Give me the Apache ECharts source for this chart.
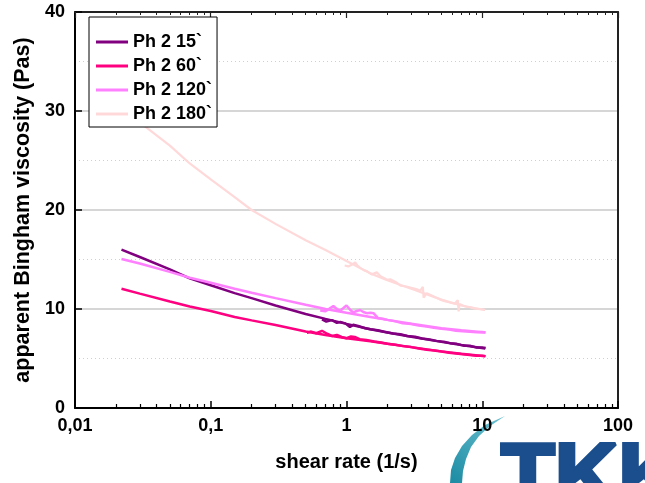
<!DOCTYPE html>
<html>
<head>
<meta charset="utf-8">
<script src="https://cdn.jsdelivr.net/npm/echarts@6/dist/echarts.min.js"></script>
<style>
  html, body { margin: 0; padding: 0; background: #fff; }
  #chart { width: 645px; height: 483px; }
</style>
</head>
<body>
<div id="chart"></div>
<script>
// Shear rate grid (1/s) of the fitted curves
const shearFit = [0.022, 0.03, 0.05, 0.07, 0.1, 0.15, 0.2, 0.3, 0.5, 0.7, 1, 1.5, 2, 3, 5, 7, 10.5];

// Fitted apparent Bingham viscosity (Pas) per sample
const fit15  = [16.0, 15.25, 14.0, 13.1, 12.4, 11.6, 11.1, 10.35, 9.5, 9.0, 8.5, 7.95, 7.62, 7.2, 6.68, 6.37, 6.02];
const fit60  = [12.05, 11.55, 10.75, 10.25, 9.8, 9.2, 8.85, 8.38, 7.73, 7.38, 7.05, 6.75, 6.5, 6.15, 5.72, 5.48, 5.22];
const fit120 = [15.05, 14.6, 13.75, 13.15, 12.65, 12.05, 11.65, 11.1, 10.42, 10.0, 9.62, 9.2, 8.9, 8.5, 8.05, 7.85, 7.62];
const fit180 = [30.3, 28.85, 26.5, 24.7, 23.1, 21.3, 20.0, 18.6, 16.95, 15.95, 14.85, 13.6, 12.9, 12.05, 10.95, 10.35, 9.9];

// Measured points (shear rate, viscosity)
const shear15 = [0.66, 0.71, 0.78, 0.85, 0.9, 0.98, 1.06, 1.12, 1.22, 1.37, 1.5, 1.7, 1.9, 2.2, 2.5, 2.8, 3.2, 3.6, 4.1, 4.6, 5.2, 5.8, 6.5, 7.3, 8.1, 9.0, 10.0, 10.6];
const visc15  = [8.95, 8.72, 8.88, 8.6, 8.68, 8.55, 8.18, 8.4, 8.28, 8.06, 7.95, 7.85, 7.7, 7.52, 7.45, 7.28, 7.2, 7.02, 6.92, 6.78, 6.7, 6.55, 6.48, 6.3, 6.28, 6.12, 6.1, 6.05];

const shear60 = [0.51, 0.55, 0.6, 0.66, 0.72, 0.78, 0.85, 0.92, 1.0, 1.08, 1.15, 1.25, 1.4, 1.6, 1.8, 2.0, 2.3, 2.6, 3.0, 3.4, 3.9, 4.4, 5.0, 5.7, 6.4, 7.2, 8.1, 9.1, 10.0, 10.6];
const visc60  = [7.6, 7.72, 7.55, 7.8, 7.5, 7.28, 7.38, 7.18, 7.05, 7.22, 7.18, 6.95, 6.88, 6.72, 6.62, 6.5, 6.38, 6.25, 6.15, 6.02, 5.88, 5.8, 5.7, 5.58, 5.5, 5.42, 5.35, 5.28, 5.28, 5.24];

const shear120 = [0.64, 0.7, 0.75, 0.8, 0.85, 0.9, 0.95, 1.0, 1.06, 1.12, 1.19, 1.26, 1.33, 1.41, 1.5, 1.58, 1.7, 1.85, 2.0, 2.3, 2.6, 3.0, 3.4, 3.9, 4.4, 5.0, 5.7, 6.4, 7.2, 8.1, 9.1, 10.0, 10.6];
const visc120  = [9.85, 9.78, 10.05, 10.3, 10.0, 9.83, 10.1, 10.35, 9.95, 9.65, 9.8, 9.9, 9.7, 9.58, 9.62, 9.58, 9.1, 9.02, 8.9, 8.75, 8.55, 8.48, 8.32, 8.22, 8.1, 8.0, 7.92, 7.8, 7.75, 7.7, 7.65, 7.68, 7.62];

const shear180 = [0.97, 1.03, 1.1, 1.16, 1.2, 1.26, 1.33, 1.42, 1.53, 1.6, 1.67, 1.78, 1.9, 1.98, 2.1, 2.28, 2.4, 2.5, 2.7, 2.9, 3.1, 3.3, 3.5, 3.65, 3.7, 3.9, 4.2, 4.5, 4.9, 5.3, 5.8, 6.3, 6.6, 6.7, 6.8, 7.2, 7.7, 8.1, 8.7, 9.3, 10.0, 10.5];
const visc180  = [14.4, 14.3, 14.5, 14.7, 14.4, 14.15, 13.95, 13.8, 13.5, 13.6, 13.7, 13.3, 13.1, 12.95, 13.0, 12.76, 12.55, 12.35, 12.3, 12.2, 12.1, 12.0, 11.85, 12.25, 11.15, 11.6, 11.4, 11.2, 10.95, 10.8, 10.65, 10.55, 10.9, 9.75, 10.5, 10.35, 10.2, 10.2, 10.05, 10.0, 9.95, 9.92];

const seriesNames = ['Ph 2 15`', 'Ph 2 60`', 'Ph 2 120`', 'Ph 2 180`'];
const seriesColors = ['#800080', '#ff0080', '#ff80ff', '#ffd9d9'];

// Axis ticks and labels
const xTickLabels = ['0,01', '0,1', '1', '10', '100'];
const xMinorTicks = [
  0.02, 0.03, 0.04, 0.05, 0.06, 0.07, 0.08, 0.09,
  0.2, 0.3, 0.4, 0.5, 0.6, 0.7, 0.8, 0.9,
  2, 3, 4, 5, 6, 7, 8, 9,
  20, 30, 40, 50, 60, 70, 80, 90
];

const FONT = '"Liberation Sans", Arial, sans-serif';

function pairs(xs, ys) { return xs.map((x, i) => [x, ys[i]]); }

function lineSeries(idx, xs, ys) {
  return {
    name: seriesNames[idx],
    type: 'line',
    xAxisIndex: 0,
    yAxisIndex: 0,
    data: pairs(xs, ys),
    showSymbol: false,
    symbol: 'none',
    smooth: false,
    z: 3,
    lineStyle: { color: seriesColors[idx], width: idx === 3 ? 2.2 : 2.5 },
    itemStyle: { color: seriesColors[idx] }
  };
}

const logAxisBase = {
  type: 'log',
  logBase: 10,
  min: 0.01,
  max: 100,
  splitLine: { show: false }
};

const chart = echarts.init(document.getElementById('chart'), null, { renderer: 'canvas' });

chart.setOption({
  animation: false,
  backgroundColor: '#ffffff',
  textStyle: { fontFamily: FONT },
  grid: { left: 75, right: 27, top: 12, bottom: 75, containLabel: false },
  legend: {
    data: seriesNames,
    orient: 'vertical',
    left: 89,
    top: 17,
    z: 10,
    selectedMode: false,
    icon: 'rect',
    backgroundColor: '#ffffff',
    borderColor: '#000000',
    borderWidth: 1,
    borderRadius: 0,
    padding: [15, 5, 3, 7],
    itemWidth: 32,
    itemHeight: 3,
    itemGap: 4,
    textStyle: { fontFamily: FONT, fontSize: 18, fontWeight: 'bold', color: '#000', lineHeight: 20 }
  },
  xAxis: [
    Object.assign({}, logAxisBase, {
      position: 'bottom',
      name: 'shear rate (1/s)',
      nameLocation: 'middle',
      nameGap: 44,
      nameTextStyle: { fontFamily: FONT, fontSize: 20, fontWeight: 'bold', color: '#000' },
      axisLine: { show: true, lineStyle: { color: '#000', width: 2 } },
      axisTick: { show: true, inside: true, length: 7, lineStyle: { color: '#000', width: 1.5 } },
      axisLabel: {
        show: true, margin: 9, color: '#000', fontFamily: FONT, fontSize: 18, fontWeight: 'bold',
        formatter: function (v) { return xTickLabels[Math.round(Math.log10(v)) + 2]; }
      }
    }),
    Object.assign({}, logAxisBase, {
      position: 'bottom',
      axisLine: { show: false },
      axisTick: { show: true, inside: true, length: 4, customValues: xMinorTicks, lineStyle: { color: '#000', width: 1.2 } },
      axisLabel: { show: false }
    }),
    Object.assign({}, logAxisBase, {
      position: 'top',
      axisLine: { show: true, lineStyle: { color: '#222', width: 2 } },
      axisTick: { show: true, inside: true, length: 6, lineStyle: { color: '#222', width: 1.2 } },
      axisLabel: { show: false }
    }),
    Object.assign({}, logAxisBase, {
      position: 'top',
      axisLine: { show: false },
      axisTick: { show: true, inside: true, length: 3, customValues: xMinorTicks, lineStyle: { color: '#222', width: 1 } },
      axisLabel: { show: false }
    })
  ],
  yAxis: [
    {
      type: 'value',
      position: 'left',
      min: 0,
      max: 40,
      interval: 10,
      name: 'apparent Bingham viscosity (Pas)',
      nameLocation: 'middle',
      nameGap: 38,
      nameTextStyle: { fontFamily: FONT, fontSize: 21.5, fontWeight: 'bold', color: '#000' },
      axisLine: { show: true, lineStyle: { color: '#000', width: 2 } },
      axisTick: { show: true, inside: true, length: 7, lineStyle: { color: '#000', width: 1.5 } },
      axisLabel: { margin: 10, color: '#000', fontFamily: FONT, fontSize: 18, fontWeight: 'bold' },
      splitLine: { show: true, lineStyle: { color: '#c8c8c8', width: 1.5 } },
      minorTick: { show: false, splitNumber: 2 },
      minorSplitLine: { show: true, lineStyle: { color: '#d0d0d0', width: 1, type: [1, 3] } }
    },
    {
      type: 'value',
      position: 'right',
      min: 0,
      max: 40,
      interval: 10,
      axisLine: { show: true, lineStyle: { color: '#222', width: 2 } },
      axisTick: { show: false },
      axisLabel: { show: false },
      splitLine: { show: false }
    }
  ],
  series: [
    lineSeries(0, shearFit, fit15),
    lineSeries(0, shear15, visc15),
    lineSeries(1, shearFit, fit60),
    lineSeries(1, shear60, visc60),
    lineSeries(2, shearFit, fit120),
    lineSeries(2, shear120, visc120),
    lineSeries(3, shearFit, fit180),
    lineSeries(3, shear180, visc180)
  ],
  graphic: [
    {
      type: 'polygon',
      z: 0,
      silent: true,
      shape: {
        points: [[450, 483], [451, 470], [455, 458], [462, 446], [472, 435], [485, 425], [505, 416],
                 [490, 426], [479, 436], [471, 447], [466, 459], [463, 471], [462, 483]]
      },
      style: {
        fill: {
          type: 'linear', x: 0, y: 1, x2: 1, y2: 0,
          colorStops: [{ offset: 0, color: '#1b8ba3' }, { offset: 1, color: '#6cc0cf' }]
        }
      }
    },
    {
      type: 'text',
      z: 0,
      silent: true,
      left: 499,
      top: 434,
      style: {
        text: 'TKK',
        font: 'bold 88px "Liberation Sans", Arial, sans-serif',
        fill: '#1b4e8c',
        stroke: '#1b4e8c',
        lineWidth: 4
      }
    }
  ]
});
</script>
</body>
</html>
